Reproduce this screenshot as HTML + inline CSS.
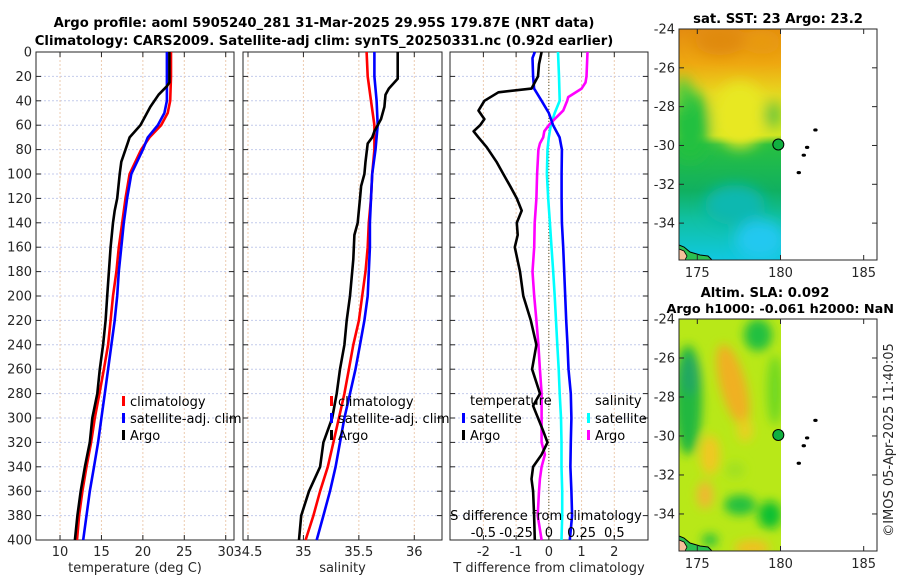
<!DOCTYPE html>
<html><head><meta charset="utf-8"><style>
body{margin:0;background:#fff;}
svg{display:block;font-family:"DejaVu Sans","Liberation Sans",sans-serif;}
.tk{font-size:13px;fill:#262626;}
.tt{font-size:13.2px;font-weight:bold;fill:#000;}
.lg{font-size:13px;fill:#000;}
</style></head><body>
<svg id="fig" width="900" height="580" viewBox="0 0 900 580">
<defs>
<filter id="blur1" x="-20%" y="-20%" width="140%" height="140%"><feGaussianBlur stdDeviation="7"/></filter>
<filter id="blur2" x="-20%" y="-20%" width="140%" height="140%"><feGaussianBlur stdDeviation="5"/></filter>
<clipPath id="clipm1"><rect x="679" y="29" width="102" height="231"/></clipPath>
<clipPath id="clipm2"><rect x="679" y="319" width="102" height="232"/></clipPath>
<linearGradient id="sstg" x1="0" y1="0" x2="0" y2="1">
<stop offset="0" stop-color="#e48c10"/><stop offset="0.15" stop-color="#eea810"/>
<stop offset="0.28" stop-color="#e8d820"/><stop offset="0.46" stop-color="#d8e820"/>
<stop offset="0.5" stop-color="#28c040"/><stop offset="0.7" stop-color="#10b060"/>
<stop offset="0.82" stop-color="#10c0a0"/><stop offset="1" stop-color="#10c8e0"/>
</linearGradient>
</defs>
<g>
<text class="tt" x="324" y="27" text-anchor="middle">Argo profile: aoml 5905240_281 31-Mar-2025 29.95S 179.87E (NRT data)</text>
<text class="tt" x="324" y="45" text-anchor="middle">Climatology: CARS2009. Satellite-adj clim: synTS_20250331.nc (0.92d earlier)</text>
</g>
<g id="panels"></g>
<g id="maps">
<text class="tt" x="778" y="23" text-anchor="middle">sat. SST: 23 Argo: 23.2</text>
<g clip-path="url(#clipm1)">
<rect x="679" y="29" width="102" height="231" fill="url(#sstg)"/>
<g filter="url(#blur1)">
<ellipse cx="690" cy="125" rx="20" ry="35" fill="#22c040"/>
<ellipse cx="683" cy="95" rx="8" ry="18" fill="#40c840"/>
<ellipse cx="740" cy="115" rx="26" ry="33" fill="#e8e820"/>
<ellipse cx="772" cy="115" rx="7" ry="14" fill="#30c040"/>
<ellipse cx="720" cy="40" rx="25" ry="15" fill="#e08a10"/>
<ellipse cx="762" cy="42" rx="18" ry="12" fill="#e89a10"/>
<ellipse cx="735" cy="205" rx="30" ry="20" fill="#10b8b0"/>
<ellipse cx="760" cy="240" rx="25" ry="20" fill="#20c8f0"/>
</g>
</g>
<g clip-path="url(#clipm2)">
<rect x="679" y="319" width="102" height="232" fill="#b8e818"/>
<g filter="url(#blur2)">
<ellipse cx="688" cy="400" rx="14" ry="55" fill="#20b840"/>
<ellipse cx="690" cy="375" rx="10" ry="20" fill="#20a860"/>
<ellipse cx="733" cy="385" rx="13" ry="42" fill="#f0b020" transform="rotate(-15 733 385)"/>
<ellipse cx="745" cy="430" rx="8" ry="12" fill="#e8d020"/>
<ellipse cx="758" cy="335" rx="14" ry="16" fill="#20c040"/>
<ellipse cx="775" cy="390" rx="8" ry="35" fill="#70d820"/>
<ellipse cx="710" cy="455" rx="10" ry="20" fill="#f0c820"/>
<ellipse cx="705" cy="495" rx="8" ry="14" fill="#f0b830"/>
<ellipse cx="740" cy="505" rx="16" ry="10" fill="#20c040"/>
<ellipse cx="770" cy="515" rx="12" ry="14" fill="#10c030"/>
<ellipse cx="710" cy="540" rx="8" ry="6" fill="#20c040"/>
<ellipse cx="752" cy="548" rx="18" ry="8" fill="#f0c020"/>
<ellipse cx="735" cy="470" rx="10" ry="8" fill="#a0e020"/>
</g>
</g>
<text class="tt" x="765" y="297" text-anchor="middle">Altim. SLA: 0.092</text>
<text class="tt" x="894" y="313" text-anchor="end" style="font-size:12.8px">Argo h1000: -0.061 h2000: NaN</text>
<text class="tk" x="0" y="0" transform="translate(893,440) rotate(-90)" text-anchor="middle">©IMOS 05-Apr-2025 11:40:05</text>
</g>
<script>
// ---- data ----
const tDepthClim=[0,20,40,50,60,70,80,100,120,140,160,180,200,220,240,260,280,300,320,340,360,380,400];
const tClim=[23.4,23.4,23.3,23.0,22.2,20.8,19.8,18.4,17.9,17.5,17.1,16.8,16.4,16.1,15.8,15.3,14.75,14.2,13.75,13.2,12.7,12.3,12.05];
const tSat=[22.9,22.9,22.9,22.6,21.8,20.6,20.0,18.6,18.1,17.7,17.4,17.1,16.9,16.6,16.2,15.8,15.4,15.0,14.6,14.1,13.6,13.2,12.8];
const tDepthArgo=[0,25,28,35,45,55,60,70,80,90,100,120,130,140,160,180,200,220,240,260,280,300,320,340,360,380,400];
const tArgo=[23.2,23.2,22.9,21.9,20.9,20.1,19.7,18.4,17.9,17.4,17.2,16.9,16.6,16.4,16.1,15.9,15.7,15.5,15.2,14.8,14.5,13.9,13.6,13.0,12.5,12.1,11.8];
const sDepthClim=[0,20,40,60,80,100,120,140,160,180,200,220,240,260,280,300,320,340,360,380,400];
const sClim=[35.57,35.58,35.61,35.64,35.64,35.62,35.61,35.59,35.58,35.56,35.53,35.5,35.45,35.41,35.37,35.32,35.27,35.22,35.15,35.09,35.02];
const sSat=[35.64,35.64,35.66,35.67,35.65,35.62,35.61,35.6,35.6,35.59,35.58,35.55,35.51,35.47,35.42,35.37,35.33,35.29,35.24,35.18,35.12];
const sDepthArgo=[0,22,30,35,45,55,65,70,75,90,100,110,120,140,150,170,180,200,220,240,260,280,300,320,340,360,380,400];
const sArgo=[35.85,35.85,35.77,35.74,35.73,35.7,35.64,35.62,35.58,35.56,35.55,35.52,35.51,35.49,35.46,35.45,35.44,35.42,35.39,35.37,35.33,35.3,35.26,35.18,35.15,35.05,34.98,34.96];
const dDepthSat=[0,5,20,30,40,50,60,70,80,100,120,140,160,180,200,220,240,260,280,300,320,340,360,380,400];
const dTSat=[-0.43,-0.5,-0.48,-0.45,-0.22,0,0.13,0.33,0.4,0.39,0.39,0.4,0.44,0.47,0.5,0.53,0.57,0.6,0.67,0.69,0.67,0.66,0.69,0.71,0.64];
const dDepthArgo=[0,10,20,30,33,40,48,55,60,65,70,78,90,100,110,120,130,140,150,160,180,200,220,240,260,280,290,300,310,320,330,340,350,360,380,400];
const dTArgo=[-0.22,-0.3,-0.33,-0.53,-1.54,-1.97,-2.15,-1.97,-2.1,-2.3,-2.15,-1.9,-1.6,-1.39,-1.18,-0.98,-0.83,-0.98,-0.95,-1.04,-0.88,-0.78,-0.55,-0.38,-0.51,-0.27,-0.48,-0.33,-0.18,-0.04,-0.22,-0.48,-0.53,-0.48,-0.45,-0.43];
const sDiffDepth=[0,20,40,50,60,70,80,100,120,140,160,180,200,220,240,260,280,300,320,340,360,380,400];
const dSSat=[0.07,0.078,0.083,0.045,0.015,0,-0.01,-0.015,-0.005,0.008,0.02,0.033,0.045,0.055,0.065,0.075,0.083,0.093,0.097,0.097,0.102,0.102,0.097];
const dDepthSArgo=[0,20,25,30,37,40,48,55,60,65,70,75,80,100,120,140,160,180,200,220,240,260,280,300,320,330,340,350,360,380,400];
const dSArgo=[0.295,0.288,0.28,0.25,0.148,0.14,0.11,0.045,0,-0.035,-0.043,-0.068,-0.08,-0.09,-0.095,-0.108,-0.112,-0.125,-0.112,-0.095,-0.08,-0.068,-0.055,-0.055,-0.055,-0.03,-0.055,-0.068,-0.075,-0.085,-0.055];
const depthTicks=[0,20,40,60,80,100,120,140,160,180,200,220,240,260,280,300,320,340,360,380,400];
const tTicks=[10,15,20,25,30];
const sTicks=[34.5,35,35.5,36];
const dTicks=[-2,-1,0,1,2];
const sdTickLabels=["-0.5","-0.25","0","0.25","0.5"];
const latTicks=[-24,-26,-28,-30,-32,-34];
const lonTicks=[175,180,185];
const islandsLon=[182.1,181.6,181.4,181.1];
const islandsLat=[-29.2,-30.1,-30.5,-31.4];
const argoLon=179.87, argoLat=-29.95;

const NS="http://www.w3.org/2000/svg";
const root=document.getElementById('panels');
function mk(tag,attrs,parent){const e=document.createElementNS(NS,tag);for(const k in attrs)e.setAttribute(k,attrs[k]);(parent||root).appendChild(e);return e;}
const Y0=52,Y1=540;
const yD=d=>Y0+(d/400)*(Y1-Y0);
function lin(d0,d1,r0,r1){return v=>r0+(v-d0)/(d1-d0)*(r1-r0);}

function panel(name,x0,x1,dom,ticks,labels,xlabel,showY){
  const g=mk('g',{});
  
  
  const xs=lin(dom[0],dom[1],x0,x1);
  depthTicks.forEach(d=>{if(d>0&&d<400){const l=mk('line',{x1:x0,x2:x1,y1:yD(d),y2:yD(d),stroke:'#c4cbec','stroke-width':1,'stroke-dasharray':'2,2'},g);
    
    }});
  ticks.forEach(t=>{const l=mk('line',{x1:xs(t),x2:xs(t),y1:Y0,y2:Y1,stroke:'#eccbb0','stroke-width':1,'stroke-dasharray':'2,2'},g);
    
    });
  const r=mk('rect',{x:x0,y:Y0,width:x1-x0,height:Y1-Y0,fill:'none',stroke:'#262626','stroke-width':1},g);
  
  
  depthTicks.forEach(d=>{
    mk('line',{x1:x0,x2:x0+5,y1:yD(d),y2:yD(d),stroke:'#262626'},g);
    mk('line',{x1:x1,x2:x1-5,y1:yD(d),y2:yD(d),stroke:'#262626'},g);
    if(showY){const t=mk('text',{x:x0-4,y:yD(d)+4.5,class:'tk','text-anchor':'end'},g);t.textContent=d;
      
      }
  });
  ticks.forEach((t,i)=>{
    mk('line',{x1:xs(t),x2:xs(t),y1:Y1,y2:Y1-5,stroke:'#262626'},g);
    mk('line',{x1:xs(t),x2:xs(t),y1:Y0,y2:Y0+5,stroke:'#262626'},g);
    const tx=mk('text',{x:xs(t),y:556,class:'tk','text-anchor':'middle'},g);tx.textContent=labels[i];
    
    
  });
  const xl=mk('text',{x:(x0+x1)/2,y:572,class:'tk','text-anchor':'middle'},g);xl.textContent=xlabel;
  
  
  return {g,xs};
}
function line(g,xs,depths,vals,color,name,w){
  const p=depths.map((d,i)=>(i?'L':'M')+xs(vals[i]).toFixed(1)+','+yD(d).toFixed(1)).join('');
  const e=mk('path',{d:p,fill:'none',stroke:color,'stroke-width':w||2.6,'stroke-linejoin':'round'},g);
  
  
}
function legend(g,x,y,items){
  items.forEach((it,i)=>{
    mk('rect',{x:x,y:y+i*17-9,width:3,height:10,fill:it[1]},g);
    const t=mk('text',{x:x+8,y:y+i*17+1,class:'lg'},g);t.textContent=it[0];
    
    
  });
}
const p1=panel('temperature-panel',36,234,[7.1,31.0],tTicks,tTicks.map(String),'temperature (deg C)',true);
line(p1.g,p1.xs,tDepthClim,tClim,'#ff0000','t-climatology-line');
line(p1.g,p1.xs,tDepthClim,tSat,'#0000ff','t-satellite-line');
line(p1.g,p1.xs,tDepthArgo,tArgo,'#000000','t-argo-line');
legend(p1.g,122,405,[['climatology','#ff0000'],['satellite-adj. clim','#0000ff'],['Argo','#000000']]);
const p2=panel('salinity-panel',243,442,[34.455,36.25],sTicks,sTicks.map(String),'salinity',false);
line(p2.g,p2.xs,sDepthClim,sClim,'#ff0000','s-climatology-line');
line(p2.g,p2.xs,sDepthClim,sSat,'#0000ff','s-satellite-line');
line(p2.g,p2.xs,sDepthArgo,sArgo,'#000000','s-argo-line');
legend(p2.g,330,405,[['climatology','#ff0000'],['satellite-adj. clim','#0000ff'],['Argo','#000000']]);
const p3=panel('difference-panel',450,648,[-3.02,3.03],dTicks,dTicks.map(String),'T difference from climatology',false);
const zl=mk('line',{x1:p3.xs(0),x2:p3.xs(0),y1:Y0,y2:Y1,stroke:'#555533','stroke-width':1,'stroke-dasharray':'1,2'},p3.g);


const sx=v=>p3.xs(v*4);
line(p3.g,sx,sDiffDepth,dSSat,'#00ffff','s-satellite-diff-line');
line(p3.g,sx,dDepthSArgo,dSArgo,'#ff00ff','s-argo-diff-line');
line(p3.g,p3.xs,dDepthSat,dTSat,'#0000ff','t-satellite-diff-line');
line(p3.g,p3.xs,dDepthArgo,dTArgo,'#000000','t-argo-diff-line');
const th=mk('text',{x:470,y:405,class:'lg'},p3.g);th.textContent='temperature';


const sh=mk('text',{x:595,y:405,class:'lg'},p3.g);sh.textContent='salinity';


legend(p3.g,462,422,[['satellite','#0000ff'],['Argo','#000000']]);
legend(p3.g,587,422,[['satellite','#00ffff'],['Argo','#ff00ff']]);
const st=mk('text',{x:546,y:520,class:'lg','text-anchor':'middle'},p3.g);st.textContent='S difference from climatology';


sdTickLabels.forEach(l=>{const t=mk('text',{x:sx(parseFloat(l)),y:537,class:'lg','text-anchor':'middle'},p3.g);t.textContent=l;
  
  });

const maps=document.getElementById('maps');
function mapAxes(name,top,bot){
  const g=mk('g',{},maps);
  
  
  const lx=lin(173.9,185.8,679,877);
  const ly=v=>top+(-24-v)*(bot-top)/11.9;
  mk('path',{d:`M679,${bot} L679,${bot-15} L684,${bot-13} L690,${bot-8} L700,${bot-5} L708,${bot-4} L712,${bot} Z`,fill:'#2bc050',stroke:'#000','stroke-width':1},g);
  const land2=mk('path',{d:`M679,${bot} L679,${bot-11} L684,${bot-9} L687,${bot-4} L685,${bot} Z`,fill:'#f5c09a',stroke:'#000','stroke-width':0.8},g);
  
  
  const r=mk('rect',{x:679,y:top,width:198,height:bot-top,fill:'none',stroke:'#262626'},g);
  
  
  latTicks.forEach(v=>{const y=ly(v);
    mk('line',{x1:679,x2:684,y1:y,y2:y,stroke:'#262626'},g);
    mk('line',{x1:877,x2:872,y1:y,y2:y,stroke:'#262626'},g);
    const t=mk('text',{x:675,y:y+4.5,class:'tk','text-anchor':'end'},g);t.textContent=v;
    
    });
  lonTicks.forEach(v=>{const x=lx(v);
    mk('line',{x1:x,x2:x,y1:bot,y2:bot-5,stroke:'#262626'},g);
    mk('line',{x1:x,x2:x,y1:top,y2:top+5,stroke:'#262626'},g);
    const t=mk('text',{x:x,y:bot+17,class:'tk','text-anchor':'middle'},g);t.textContent=v;
    
    });
  islandsLon.forEach((v,i)=>{const c=mk('ellipse',{cx:lx(v),cy:ly(islandsLat[i]),rx:2.2,ry:1.6,fill:'#000'},g);
    
    });
  const m=mk('circle',{cx:lx(argoLon),cy:ly(argoLat),r:5.5,fill:'#10b040',stroke:'#000','stroke-width':1},g);
  
  
}
mapAxes('sst-map-axes',29,260);
mapAxes('sla-map-axes',319,551);
</script>
</svg>
</body></html>
